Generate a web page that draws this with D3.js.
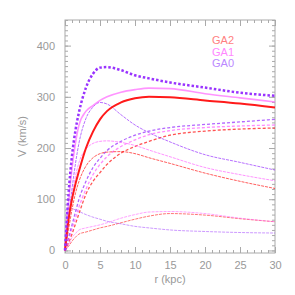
<!DOCTYPE html>
<html>
<head>
<meta charset="utf-8">
<script src="https://cdn.jsdelivr.net/npm/d3@7"></script>
<style>
  body { margin: 0; background: #fff; }
  text { font-family: "Liberation Sans", "DejaVu Sans", sans-serif; }
</style>
</head>
<body>
<div id="chart"></div>
<script>
// radius grid (kpc)
var radius = [0, 0.5, 1, 1.5, 2, 3, 4, 5, 6, 8, 10, 12, 15, 20, 25, 30];

// total rotation curves
var ga0Total = [0, 110, 185, 235, 270, 318, 345, 357, 358, 352, 342, 336, 328, 318, 308, 302];
var ga1Total = [0, 90, 160, 210, 245, 272, 283, 293, 300, 309, 314, 317, 316, 306, 298, 290];
var ga2Total = [0, 60, 100, 130, 155, 200, 232, 256, 272, 289, 297, 300, 299, 293, 287, 279];

// disk components
var ga0Disk = [0, 60, 120, 170, 210, 258, 280, 289, 286, 265, 245, 230, 212, 187, 172, 157];
var ga1Disk = [0, 55, 105, 145, 172, 198, 209, 213, 214, 211, 205, 196, 183, 162, 148, 136];
var ga2Disk = [0, 40, 80, 112, 135, 165, 181, 189, 192, 193, 189, 181, 170, 151, 135, 121];

// halo components
var ga0Halo = [0, 25, 50, 75, 100, 135, 162, 180, 195, 213, 225, 233, 240, 246, 251, 256];
var ga1Halo = [0, 20, 42, 63, 85, 120, 148, 168, 183, 203, 216, 226, 234, 240, 243, 245];
var ga2Halo = [0, 15, 32, 52, 72, 110, 135, 152, 168, 190, 203, 213, 225, 233, 237, 239];

// inner / gas components
var ga0Inner = [0, 84, 82, 79, 76, 70, 65, 61, 57, 52, 47, 44, 40, 37, 35, 34];
var ga1Inner = [0, 10, 25, 33, 40, 44, 47, 50, 54, 63, 70, 75, 76, 72, 63, 56];
var ga2Inner = [0, 8, 18, 26, 32, 36, 40, 44, 47, 54, 61, 67, 72, 69, 62, 56];

var modelNames = ["GA2", "GA1", "GA0"];
var xTicks = [0, 5, 10, 15, 20, 25, 30];
var yTicks = [0, 100, 200, 300, 400];

var svgWidth = 295;
var svgHeight = 295;
var margin = { top: 20, right: 20, bottom: 42, left: 65 };
var width = svgWidth - margin.left - margin.right;
var height = svgHeight - margin.top - margin.bottom;

var red = "#ff1a1a", pink = "#ff66ff", purple = "#9933ff";
var axisColor = "#aaaaaa";

var svg = d3.select("#chart")
  .append("svg")
  .attr("width", svgWidth)
  .attr("height", svgHeight);

var chartGroup = svg.append("g")
  .attr("transform", `translate(${margin.left}, ${margin.top})`);

var xScale = d3.scaleLinear().domain([0, 30]).range([0, width]);
var yScale = d3.scaleLinear().domain([-5, 450]).range([height, 0]);

// frame box with inward ticks on all sides
chartGroup.append("rect")
  .attr("width", width)
  .attr("height", height)
  .attr("fill", "none")
  .attr("stroke", axisColor);

function styleAxis(g) {
  g.select(".domain").remove();
  g.selectAll("line").attr("stroke", axisColor);
  g.selectAll("text").attr("fill", "#999").attr("font-size", 11);
}

var xMinor = d3.range(0, 31, 1);
var yMinor = d3.range(0, 451, 10);

chartGroup.append("g").attr("transform", `translate(0, ${height})`)
  .call(d3.axisBottom(xScale).tickValues(xMinor).tickSize(-3).tickFormat(""))
  .call(styleAxis);
chartGroup.append("g").attr("transform", `translate(0, ${height})`)
  .call(d3.axisBottom(xScale).tickValues(xTicks).tickSize(-6).tickPadding(8).tickFormat(d3.format("d")))
  .call(styleAxis);
chartGroup.append("g")
  .call(d3.axisTop(xScale).tickValues(xMinor).tickSize(-3).tickFormat(""))
  .call(styleAxis);
chartGroup.append("g")
  .call(d3.axisTop(xScale).tickValues(xTicks).tickSize(-6).tickFormat(""))
  .call(styleAxis);

chartGroup.append("g")
  .call(d3.axisLeft(yScale).tickValues(yMinor).tickSize(-3).tickFormat(""))
  .call(styleAxis);
chartGroup.append("g")
  .call(d3.axisLeft(yScale).tickValues(yTicks).tickSize(-6).tickPadding(10).tickFormat(d3.format("d")))
  .call(styleAxis);
chartGroup.append("g").attr("transform", `translate(${width}, 0)`)
  .call(d3.axisRight(yScale).tickValues(yMinor).tickSize(-3).tickFormat(""))
  .call(styleAxis);
chartGroup.append("g").attr("transform", `translate(${width}, 0)`)
  .call(d3.axisRight(yScale).tickValues(yTicks).tickSize(-6).tickFormat(""))
  .call(styleAxis);

var series = [
  { v: ga2Inner, color: red, w: 1, dash: "3,1", op: 0.6 },
  { v: ga1Inner, color: pink, w: 1, dash: "3,1", op: 0.6 },
  { v: ga0Inner, color: purple, w: 1, dash: "3,1", op: 0.5 },
  { v: ga2Halo, color: red, w: 1.3, dash: "3,2", op: 0.75 },
  { v: ga1Halo, color: pink, w: 1.3, dash: "3,2", op: 0.75 },
  { v: ga0Halo, color: purple, w: 1.3, dash: "3,2", op: 0.75 },
  { v: ga2Disk, color: red, w: 1, dash: "3,1", op: 0.7 },
  { v: ga1Disk, color: pink, w: 1, dash: "3,1", op: 0.7 },
  { v: ga0Disk, color: purple, w: 1, dash: "3,1", op: 0.7 },
  { v: ga1Total, color: pink, w: 1.6, dash: null, op: 0.7 },
  { v: ga2Total, color: red, w: 2, dash: null, op: 1 },
  { v: ga0Total, color: purple, w: 2.5, dash: "2.5,2", op: 1 }
];

var line = d3.line()
  .x((d, i) => xScale(radius[i]))
  .y(d => yScale(d))
  .curve(d3.curveMonotoneX);

chartGroup.selectAll(".curve")
  .data(series)
  .enter()
  .append("path")
  .attr("class", "curve")
  .attr("d", d => line(d.v))
  .attr("fill", "none")
  .attr("stroke", d => d.color)
  .attr("stroke-width", d => d.w)
  .attr("stroke-dasharray", d => d.dash)
  .attr("opacity", d => d.op);

// legend
var legendColors = ["#ff7f7f", "#ff88ff", "#bb88ff"];
chartGroup.selectAll(".legend")
  .data(modelNames)
  .enter()
  .append("text")
  .attr("class", "legend")
  .attr("x", 147)
  .attr("y", (d, i) => 24 + i * 11.7)
  .attr("fill", (d, i) => legendColors[i])
  .attr("font-size", 11)
  .text(d => d);

// axis titles
svg.append("text")
  .attr("transform", `translate(26, ${margin.top + height / 2}) rotate(-90)`)
  .attr("text-anchor", "middle")
  .attr("fill", "#999")
  .attr("font-size", 11)
  .text("V (km/s)");

svg.append("text")
  .attr("x", margin.left + width / 2)
  .attr("y", 283)
  .attr("text-anchor", "middle")
  .attr("fill", "#999")
  .attr("font-size", 11)
  .text("r (kpc)");
</script>
</body>
</html>
